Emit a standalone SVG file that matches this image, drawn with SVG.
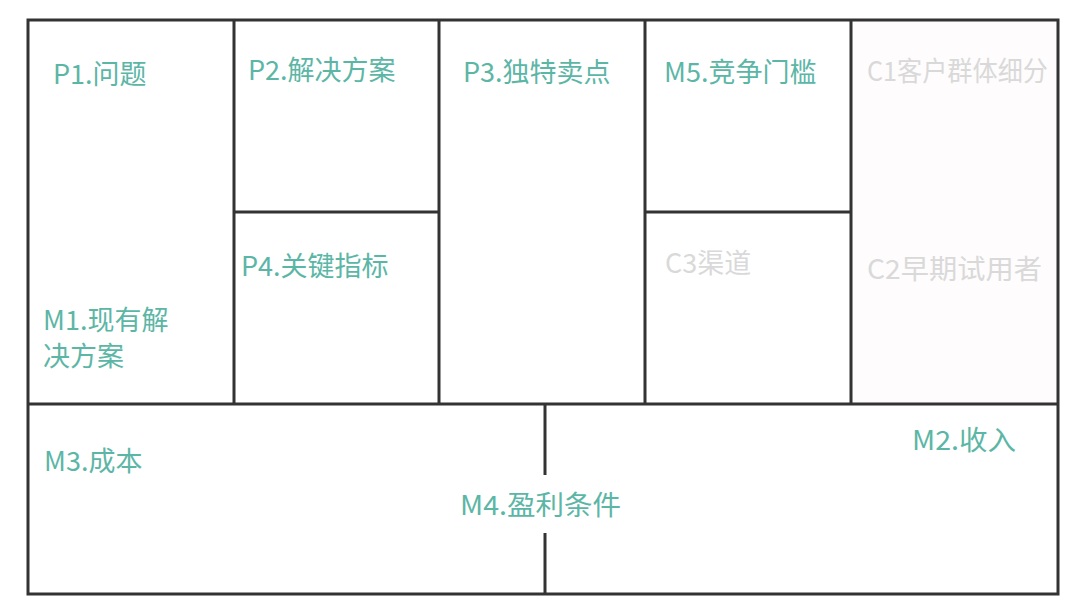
<svg xmlns="http://www.w3.org/2000/svg" width="1080" height="613" viewBox="0 0 1080 613">
<style>
.ln{stroke:#333;stroke-width:3;fill:none}
.t{font-family:"Noto Sans CJK SC","Noto Sans",sans-serif;font-size:27px;fill:#5cb6a6}
.g{font-family:"Noto Sans CJK SC","Noto Sans",sans-serif;font-size:27px;fill:#d9d9d9}
</style>
<rect width="1080" height="613" fill="#ffffff"/>
<rect x="851" y="20" width="207" height="384" fill="#fefcfc"/>
<g id="connectors">
<rect class="ln" x="28" y="20" width="1030" height="574"/>
<line class="ln" x1="234" y1="20" x2="234" y2="404"/>
<line class="ln" x1="439" y1="20" x2="439" y2="404"/>
<line class="ln" x1="645" y1="20" x2="645" y2="404"/>
<line class="ln" x1="851" y1="20" x2="851" y2="404"/>
<line class="ln" x1="28" y1="404" x2="1058" y2="404"/>
<line class="ln" x1="234" y1="212" x2="439" y2="212"/>
<line class="ln" x1="645" y1="212" x2="851" y2="212"/>
<line class="ln" x1="545" y1="404" x2="545" y2="475"/>
<line class="ln" x1="545" y1="533" x2="545" y2="594"/>
</g>
<g id="P1"><text class="t" x="53" y="84">P1.问题</text></g>
<g id="P2"><text class="t" x="248" y="80">P2.解决方案</text></g>
<g id="P3"><text class="t" x="463" y="82">P3.独特卖点</text></g>
<g id="M5"><text class="t" x="664" y="82">M5.竞争门槛</text></g>
<g id="C1"><text class="g" x="867" y="81" textLength="181" lengthAdjust="spacingAndGlyphs">C1客户群体细分</text></g>
<g id="P4"><text class="t" x="241" y="276">P4.关键指标</text></g>
<g id="C3"><text class="g" x="665" y="273">C3渠道</text></g>
<g id="C2"><text class="g" x="867" y="279" textLength="175" lengthAdjust="spacingAndGlyphs">C2早期试用者</text></g>
<g id="M1"><text class="t" x="43" y="330">M1.现有解</text><text class="t" x="43" y="366">决方案</text></g>
<g id="M3"><text class="t" x="44" y="471">M3.成本</text></g>
<g id="M2"><text class="t" x="912" y="450" textLength="104" lengthAdjust="spacingAndGlyphs">M2.收入</text></g>
<g id="M4"><text class="t" x="460" y="515" textLength="161" lengthAdjust="spacingAndGlyphs">M4.盈利条件</text></g>
</svg>
